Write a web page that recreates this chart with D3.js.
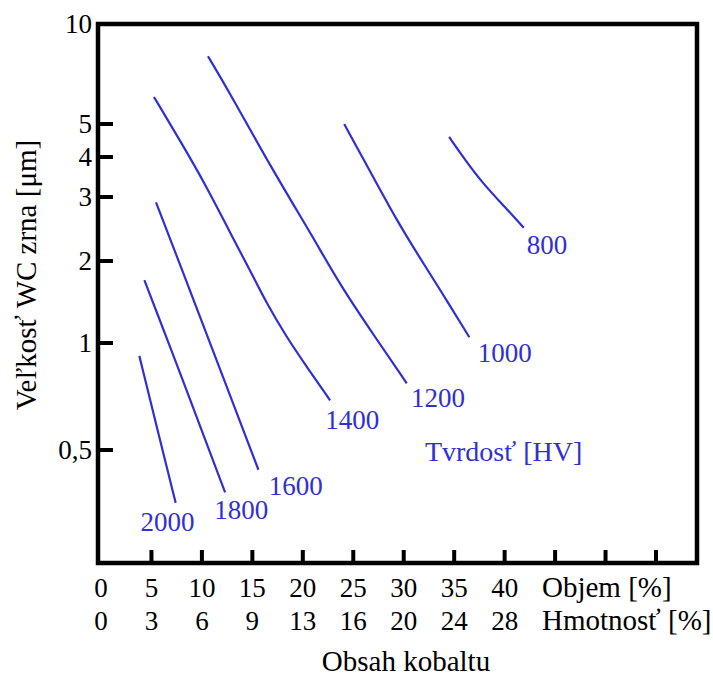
<!DOCTYPE html>
<html>
<head>
<meta charset="utf-8">
<script src="https://cdn.jsdelivr.net/npm/d3@7"></script>
<style>
  html, body { margin: 0; padding: 0; background: #fff; }
  svg text { font-family: "Liberation Serif", "Times New Roman", serif; }
</style>
</head>
<body>
<svg id="chart" width="713" height="677"></svg>
<script>
// Cobalt content ticks (volume %) and matching weight % labels
const volTicks = [0, 5, 10, 15, 20, 25, 30, 35, 40];
const extraTicks = [45, 50, 55];
const wtLabels = ['0', '3', '6', '9', '13', '16', '20', '24', '28'];

// WC grain size ticks (µm)
const grainTicks = [0.5, 1, 2, 3, 4, 5, 10];
const grainLabels = ['0,5', '1', '2', '3', '4', '5', '10'];

// iso-hardness lines: [cobalt vol %, grain size µm]
const hv800 = [[34.5, 4.58], [36.1, 3.91], [37.8, 3.32], [40.0, 2.82], [41.9, 2.47]];
const hv1000 = [[24.1, 5.0], [26.6, 3.64], [29.3, 2.59], [31.6, 2.04], [33.6, 1.57], [36.5, 1.05]];
const hv1200 = [[10.6, 8.0], [12.6, 6.33], [17.0, 3.64], [21.0, 2.33], [23.7, 1.63], [27.1, 1.06], [30.3, 0.77]];
const hv1400 = [[5.25, 6.03], [7.8, 4.49], [10.5, 3.22], [12.8, 2.39], [14.75, 1.855], [16.4, 1.40], [18.4, 1.05], [20.4, 0.856], [22.7, 0.69]];
const hv1600 = [[5.45, 2.9], [7.7, 2.0], [10.8, 1.0], [15.6, 0.44]];
const hv1800 = [[4.3, 1.7], [6.7, 1.0], [8.3, 0.76], [12.3, 0.38]];
const hv2000 = [[3.8, 0.92], [5.6, 0.57], [7.4, 0.355]];

const hardness = ['800', '1000', '1200', '1400', '1600', '1800', '2000'];
const lines = [hv800, hv1000, hv1200, hv1400, hv1600, hv1800, hv2000];
// label anchors in data units
const labelAt = [[44.2, 2.21], [40.0, 0.937], [33.4, 0.70], [24.9, 0.607], [19.3, 0.396], [13.9, 0.339], [6.6, 0.3135]];
const unitLabel = 'Tvrdosť [HV]';
const unitAt = [39.9, 0.494];

const svg = d3.select('#chart');
const box = {left: 98, right: 697, top: 24, bottom: 563};
const blue = '#2f2fd6';
const fs = 27;      // numbers
const fsWord = 29;  // axis words

const x = d3.scaleLinear().domain([0, 55]).range([box.left + 3, box.left + 558]);
// the printed log axis is slightly uneven, so follow its tick rows piecewise
const y = d3.scaleLog().domain(grainTicks).range([450, 343, 261, 197, 157, 124, box.top]);

// frame
svg.append('path')
    .attr('d', `M${box.left},${box.bottom}V${box.top}H${box.right}V${box.bottom}Z`)
    .attr('fill', 'none')
    .attr('stroke', '#000')
    .attr('stroke-width', 4.5);

// y ticks
svg.append('g').selectAll('line')
    .data(grainTicks.slice(0, -1))
    .join('line')
    .attr('x1', box.left).attr('x2', box.left + 15)
    .attr('y1', d => y(d)).attr('y2', d => y(d))
    .attr('stroke', '#000').attr('stroke-width', 4);

svg.append('g').selectAll('text')
    .data(grainTicks)
    .join('text')
    .attr('x', box.left - 6)
    .attr('y', d => y(d))
    .attr('dy', '0.34em')
    .attr('text-anchor', 'end')
    .attr('font-size', fs)
    .text((d, i) => grainLabels[i]);

// x ticks
svg.append('g').selectAll('line')
    .data(volTicks.slice(1).concat(extraTicks))
    .join('line')
    .attr('x1', d => x(d)).attr('x2', d => x(d))
    .attr('y1', box.bottom).attr('y2', box.bottom - 13)
    .attr('stroke', '#000').attr('stroke-width', 4);

svg.append('g').selectAll('text')
    .data(volTicks)
    .join('text')
    .attr('x', d => x(d))
    .attr('y', 597)
    .attr('text-anchor', 'middle')
    .attr('font-size', fs)
    .text(d => d);

svg.append('g').selectAll('text')
    .data(volTicks)
    .join('text')
    .attr('x', d => x(d))
    .attr('y', 630)
    .attr('text-anchor', 'middle')
    .attr('font-size', fs)
    .text((d, i) => wtLabels[i]);

svg.append('text').attr('x', 542).attr('y', 597).attr('font-size', fsWord).text('Objem [%]');
svg.append('text').attr('x', 542).attr('y', 630).attr('font-size', fsWord).text('Hmotnosť [%]');

svg.append('text')
    .attr('x', 406).attr('y', 671)
    .attr('text-anchor', 'middle')
    .attr('font-size', fsWord)
    .text('Obsah kobaltu');

svg.append('text')
    .attr('transform', 'translate(36,275) rotate(-90)')
    .attr('text-anchor', 'middle')
    .attr('font-size', fsWord)
    .text('Veľkosť WC zrna [μm]');

// hardness lines
const line = d3.line()
    .x(d => x(d[0]))
    .y(d => y(d[1]))
    .curve(d3.curveBasis);

svg.append('g').selectAll('path')
    .data(lines)
    .join('path')
    .attr('d', line)
    .attr('fill', 'none')
    .attr('stroke', blue)
    .attr('stroke-width', 2.2);

svg.append('g').selectAll('text')
    .data(hardness)
    .join('text')
    .attr('x', (d, i) => x(labelAt[i][0]))
    .attr('y', (d, i) => y(labelAt[i][1]))
    .attr('dy', '0.34em')
    .attr('text-anchor', 'middle')
    .attr('font-size', fs)
    .attr('fill', blue)
    .text(d => d);

svg.append('text')
    .attr('x', x(unitAt[0]))
    .attr('y', y(unitAt[1]))
    .attr('dy', '0.34em')
    .attr('text-anchor', 'middle')
    .attr('font-size', 28)
    .attr('fill', blue)
    .text(unitLabel);
</script>
</body>
</html>
